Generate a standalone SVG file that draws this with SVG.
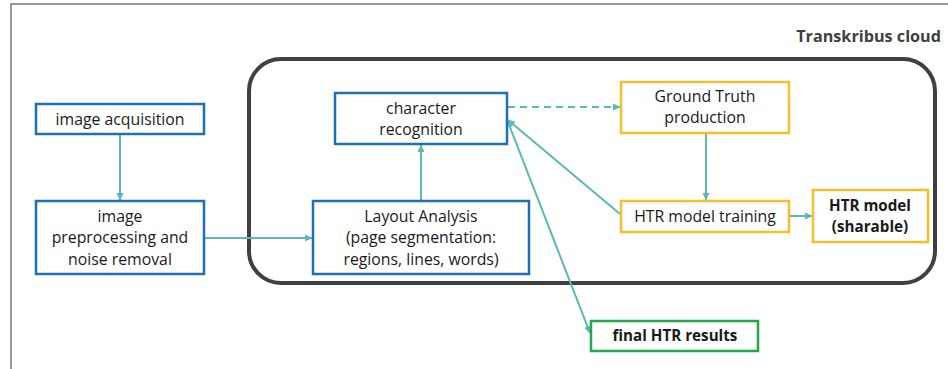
<svg xmlns="http://www.w3.org/2000/svg" width="948" height="369" viewBox="0 0 948 369">
<style>
text{font-family:"Open Sans","Noto Sans","Liberation Sans",sans-serif;font-size:15.8px;fill:#1a1a1a;text-anchor:middle}
.b{font-weight:bold;font-size:15.2px}
.blue{fill:#fff;stroke:#1f6fb2;stroke-width:2.5}
.yel{fill:#fff;stroke:#f5bf2a;stroke-width:2.5}
.grn{fill:#fff;stroke:#22a64e;stroke-width:2.5}
.c{stroke:#5ab8b5;stroke-width:2;fill:none;marker-end:url(#ah)}
</style>
<defs>
<marker id="ah" markerWidth="8" markerHeight="8" refX="7" refY="4" orient="auto" markerUnits="userSpaceOnUse">
<path d="M0,0.5 L7.5,4 L0,7.5 Z" fill="#5ab8b5"/>
</marker>
</defs>
<rect width="948" height="369" fill="#fff"/>
<path d="M11,369 V4 H948" fill="none" stroke="#777" stroke-width="1.5"/>
<text x="941" y="42" style="text-anchor:end;font-weight:bold;font-size:16.2px;fill:#404040">Transkribus cloud</text>
<rect x="249" y="59" width="686" height="224" rx="32" fill="none" stroke="#404040" stroke-width="4"/>
<g id="connectors">
<line class="c" x1="120" y1="135" x2="120" y2="200"/>
<line class="c" x1="205" y1="238" x2="312" y2="238"/>
<line class="c" x1="421" y1="200" x2="421" y2="145"/>
<line class="c" x1="508" y1="107" x2="620" y2="107" stroke-dasharray="7,5"/>
<line class="c" x1="706" y1="134" x2="706" y2="200"/>
<line class="c" x1="790" y1="216" x2="812" y2="216"/>
<line class="c" x1="620" y1="214" x2="508" y2="120"/>
<line class="c" x1="508" y1="122" x2="590" y2="333"/>
</g>
<g id="image-acquisition">
<rect class="blue" x="36" y="104" width="168" height="30"/>
<text x="120" y="125">image acquisition</text>
</g>
<g id="image-preprocessing">
<rect class="blue" x="36" y="201" width="168" height="73"/>
<text x="120" y="222">image</text>
<text x="120" y="243">preprocessing and</text>
<text x="120" y="265">noise removal</text>
</g>
<g id="layout-analysis">
<rect class="blue" x="313" y="201" width="216" height="73"/>
<text x="421" y="222">Layout Analysis</text>
<text x="421" y="243">(page segmentation:</text>
<text x="421" y="265">regions, lines, words)</text>
</g>
<g id="character-recognition">
<rect class="blue" x="335" y="93" width="172" height="51"/>
<text x="421" y="114">character</text>
<text x="421" y="135">recognition</text>
</g>
<g id="ground-truth">
<rect class="yel" x="621" y="82" width="168" height="51"/>
<text x="705" y="102">Ground Truth</text>
<text x="705" y="123">production</text>
</g>
<g id="htr-training">
<rect class="yel" x="621" y="201" width="168" height="31"/>
<text x="705" y="222">HTR model training</text>
</g>
<g id="htr-model">
<rect class="yel" x="813" y="190" width="115" height="52"/>
<text x="870" y="211" class="b">HTR model</text>
<text x="870" y="232" class="b">(sharable)</text>
</g>
<g id="final-results">
<rect class="grn" x="591" y="321" width="167" height="30"/>
<text x="675" y="341" class="b">final HTR results</text>
</g>
</svg>
